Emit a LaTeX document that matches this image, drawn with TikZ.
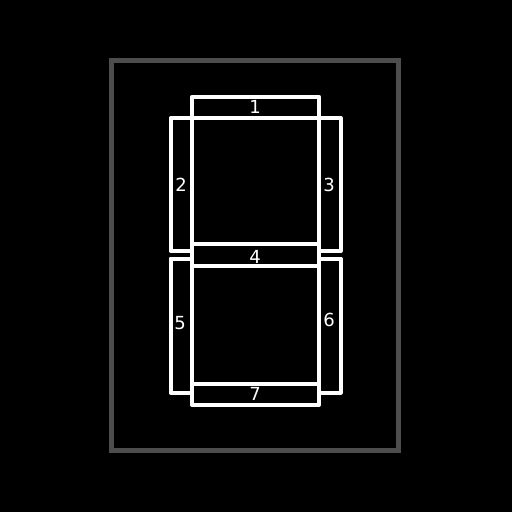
\documentclass[tikz,border=0pt]{standalone}
\usepackage{fontspec}
\usepackage{tikz}
\newfontfamily\segfont{DejaVu Sans}
\definecolor{frame}{HTML}{4D4D4D}

\begin{document}
\begin{tikzpicture}[x=1pt, y=-1pt,
  seg/.style={draw=white, line width=4pt, line join=round, inner sep=0pt, outer sep=0pt},
  hseg/.style={seg, minimum width=127pt, minimum height=21pt},
  vseg/.style={seg, minimum width=21.5pt, minimum height=133pt},
  num/.style={text=white, font=\segfont\fontsize{18}{20}\selectfont, inner sep=0pt}
]
  \fill[black] (0,0) rectangle (512,512);
  \useasboundingbox (0,0) rectangle (512,512);
  \node[draw=frame, line width=5pt, minimum width=287pt, minimum height=390.5pt, inner sep=0pt] (case) at (255,255.25) {};
  \node[hseg] (seg1) at (255.5,107.25) {};
  \node[vseg] (seg2) at (181.25,184.5) {};
  \node[vseg] (seg3) at (329.75,184.5) {};
  \node[hseg, minimum height=22pt] (seg4) at (255.5,255) {};
  \node[vseg, minimum height=134pt] (seg5) at (181.25,325.5) {};
  \node[vseg, minimum height=134pt] (seg6) at (329.75,325.5) {};
  \node[hseg] (seg7) at (255.5,394.5) {};
  \node[num] (lab1) at (255,107) {1};
  \node[num] (lab2) at (181,185) {2};
  \node[num] (lab3) at (329,185) {3};
  \node[num] (lab4) at (255,256.5) {4};
  \node[num] (lab5) at (180,323) {5};
  \node[num] (lab6) at (329,319.5) {6};
  \node[num] (lab7) at (255,394) {7};
\end{tikzpicture}
\end{document}
